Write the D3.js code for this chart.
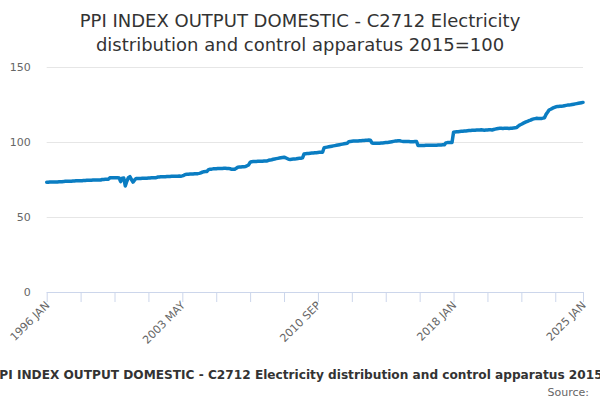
<!DOCTYPE html>
<html>
<head>
<meta charset="utf-8">
<script src="https://cdn.jsdelivr.net/npm/d3@7"></script>
<style>
  body { margin: 0; background: #fff; }
  text { font-family: "DejaVu Sans", sans-serif; }
</style>
</head>
<body>
<div id="chart"></div>
<script>
const ctx = {
    W: 600,
    H: 400,
    LEFT: 46.7,
    RIGHT: 583,
    TOP: 67,
    BOTTOM: 292,
};

const TITLE_LINES = ["PPI INDEX OUTPUT DOMESTIC - C2712 Electricity",
                     "distribution and control apparatus 2015=100"];
const SERIES_NAME = "PPI INDEX OUTPUT DOMESTIC - C2712 Electricity distribution and control apparatus 2015=100";
const MONTHS = ["JAN", "FEB", "MAR", "APR", "MAY", "JUN", "JUL", "AUG", "SEP", "OCT", "NOV", "DEC"];
const YEARS = d3.range(1996, 2026);
const Y_TICKS = [0, 50, 100, 150];
const X_LABELS = ["1996 JAN", "2003 MAY", "2010 SEP", "2018 JAN", "2025 JAN"];

// monthly index values, one row per year (2025 only Jan)
const v1996 = [73.2, 73.2, 73.3, 73.3, 73.3, 73.4, 73.4, 73.4, 73.5, 73.5, 73.5, 73.6];
const v1997 = [73.8, 73.8, 73.9, 73.9, 73.9, 74.0, 74.0, 74.1, 74.1, 74.2, 74.2, 74.2];
const v1998 = [74.4, 74.4, 74.5, 74.5, 74.5, 74.5, 74.6, 74.6, 74.6, 74.7, 74.7, 74.7];
const v1999 = [75.0, 75.0, 75.1, 75.1, 75.2, 76.1, 76.2, 76.2, 76.1, 76.2, 76.2, 76.0];
const v2000 = [73.6, 75.9, 76.0, 70.7, 73.8, 76.2, 76.9, 75.0, 73.3, 74.6, 75.6, 75.6];
const v2001 = [75.7, 75.7, 75.8, 75.8, 75.9, 75.9, 76.0, 76.0, 76.1, 76.1, 76.2, 76.2];
const v2002 = [76.6, 76.7, 76.8, 76.8, 76.9, 76.9, 77.0, 77.0, 77.0, 77.1, 77.1, 77.1];
const v2003 = [77.2, 77.2, 77.3, 77.2, 77.4, 77.8, 78.4, 78.5, 78.5, 78.6, 78.6, 78.7];
const v2004 = [78.8, 78.8, 78.9, 79.1, 79.4, 79.9, 80.2, 80.3, 80.4, 81.6, 81.8, 81.9];
const v2005 = [82.1, 82.2, 82.2, 82.3, 82.3, 82.4, 82.4, 82.5, 82.5, 82.4, 82.4, 82.2];
const v2006 = [81.8, 81.8, 81.9, 82.5, 83.2, 83.3, 83.4, 83.5, 83.5, 83.6, 84.2, 84.7];
const v2007 = [86.4, 86.9, 87.0, 87.0, 87.0, 87.1, 87.1, 87.2, 87.2, 87.3, 87.3, 87.4];
const v2008 = [87.8, 88.0, 88.2, 88.5, 88.7, 88.9, 89.1, 89.3, 89.5, 89.7, 89.8, 89.5];
const v2009 = [89.0, 88.5, 88.4, 88.5, 88.6, 88.7, 88.8, 89.0, 89.1, 89.2, 89.4, 92.0];
const v2010 = [92.2, 92.3, 92.4, 92.5, 92.6, 92.7, 92.8, 92.9, 93.0, 93.1, 93.1, 93.2];
const v2011 = [96.2, 96.4, 96.6, 96.8, 97.0, 97.2, 97.4, 97.6, 97.8, 98.0, 98.2, 98.4];
const v2012 = [98.6, 98.8, 99.0, 99.2, 100.2, 100.4, 100.5, 100.6, 100.6, 100.7, 100.7, 100.8];
const v2013 = [100.9, 101.0, 101.0, 101.1, 101.2, 101.3, 101.2, 99.5, 99.1, 99.1, 99.2, 99.2];
const v2014 = [99.2, 99.3, 99.4, 99.5, 99.6, 99.6, 99.8, 100.0, 100.2, 100.4, 100.6, 100.7];
const v2015 = [100.8, 100.9, 100.6, 100.4, 100.4, 100.3, 100.3, 100.3, 100.2, 100.2, 100.2, 100.3];
const v2016 = [100.3, 97.6, 97.6, 97.7, 97.7, 97.7, 97.8, 97.8, 97.8, 97.8, 97.9, 97.9];
const v2017 = [97.9, 97.9, 98.0, 98.0, 98.0, 98.1, 98.1, 99.4, 99.6, 99.6, 99.6, 99.7];
const v2018 = [106.5, 106.7, 106.8, 106.9, 107.0, 107.1, 107.2, 107.3, 107.4, 107.5, 107.6, 107.6];
const v2019 = [107.8, 107.9, 107.9, 108.0, 108.0, 108.0, 108.1, 108.0, 107.9, 108.0, 108.0, 108.1];
const v2020 = [108.1, 108.0, 108.3, 108.6, 108.8, 109.0, 109.1, 109.1, 109.0, 109.1, 109.2, 109.1];
const v2021 = [109.0, 109.1, 109.2, 109.4, 109.5, 109.6, 110.6, 111.3, 111.8, 112.4, 112.9, 113.4];
const v2022 = [113.8, 114.2, 114.6, 115.1, 115.4, 115.6, 115.8, 115.7, 115.6, 115.7, 115.9, 116.2];
const v2023 = [118.4, 119.8, 121.3, 121.8, 122.4, 122.9, 123.3, 123.6, 123.7, 123.8, 123.9, 124.0];
const v2024 = [124.2, 124.4, 124.6, 124.7, 124.8, 125.0, 125.2, 125.4, 125.6, 125.8, 126.0, 126.2];
const v2025 = [126.4];

const VALUES = [].concat(v1996, v1997, v1998, v1999, v2000, v2001, v2002, v2003, v2004, v2005,
                         v2006, v2007, v2008, v2009, v2010, v2011, v2012, v2013, v2014, v2015,
                         v2016, v2017, v2018, v2019, v2020, v2021, v2022, v2023, v2024, v2025);

function createViz() {
    const categories = [];
    YEARS.forEach(y => MONTHS.forEach(m => categories.push(y + " " + m)));
    categories.length = VALUES.length;

    const data = VALUES.map((v, i) => ({ cat: categories[i], i: i, v: v }));

    const svg = d3.select("#chart").append("svg")
        .attr("width", ctx.W)
        .attr("height", ctx.H);

    const x = d3.scaleLinear().domain([0, data.length - 1]).range([ctx.LEFT, ctx.RIGHT]);
    const y = d3.scaleLinear().domain([0, 150]).range([ctx.BOTTOM, ctx.TOP]);

    // title
    svg.append("g").selectAll("text")
        .data(TITLE_LINES)
        .enter()
        .append("text")
        .attr("x", ctx.W / 2)
        .attr("y", (d, k) => 27 + k * 24)
        .attr("text-anchor", "middle")
        .style("font-size", "18px")
        .style("fill", "#333333")
        .text(d => d);

    // grid + y labels
    const yAxis = d3.axisLeft(y).tickValues(Y_TICKS)
        .tickSize(-(ctx.RIGHT - ctx.LEFT)).tickPadding(16);
    const gy = svg.append("g").attr("transform", `translate(${ctx.LEFT},0)`).call(yAxis);
    gy.select(".domain").remove();
    gy.selectAll(".tick line").attr("stroke", "#e6e6e6").attr("stroke-width", 1)
        .filter(d => d === 0).remove();
    gy.selectAll(".tick text")
        .style("font-family", "DejaVu Sans, sans-serif")
        .style("font-size", "11px")
        .style("fill", "#666666");

    // x axis, tick every 22 months plus the last month
    const tickIdx = d3.range(0, data.length - 1, 22).concat([data.length - 1]);
    const xAxis = d3.axisBottom(x).tickValues(tickIdx).tickSize(10)
        .tickFormat(i => X_LABELS.includes(categories[i]) ? categories[i] : "");
    const gx = svg.append("g").attr("transform", `translate(0,${ctx.BOTTOM})`).call(xAxis);
    gx.select(".domain").attr("stroke", "#ccd6eb").attr("d", `M${ctx.LEFT},0.5H${ctx.RIGHT}`);
    gx.selectAll(".tick line").attr("stroke", "#ccd6eb");
    gx.selectAll(".tick text")
        .style("font-family", "DejaVu Sans, sans-serif")
        .style("font-size", "11px")
        .style("fill", "#666666")
        .attr("text-anchor", "end")
        .attr("dy", null)
        .attr("y", 0)
        .attr("transform", "translate(3,14) rotate(-45)");

    // series line
    const line = d3.line().x(d => x(d.i)).y(d => y(d.v));
    svg.append("path")
        .datum(data)
        .attr("d", line)
        .attr("fill", "none")
        .attr("stroke", "#0a7dc2")
        .attr("stroke-width", 3.5)
        .attr("stroke-linejoin", "round")
        .attr("stroke-linecap", "round");

    // legend (wider than the chart, clipped by the edges)
    const lg = svg.append("g");
    const lt = lg.append("text")
        .attr("y", 379)
        .style("font-size", "12px")
        .style("font-weight", "bold")
        .style("fill", "#333333")
        .text(SERIES_NAME);
    const tw = lt.node().getComputedTextLength();
    const x0 = ctx.W / 2 - (tw + 21) / 2;
    lg.append("line")
        .attr("x1", x0).attr("x2", x0 + 16)
        .attr("y1", 375).attr("y2", 375)
        .attr("stroke", "#0a7dc2").attr("stroke-width", 2);
    lt.attr("x", x0 + 21).style("font-size", "12.15px");

    // credits
    svg.append("text")
        .attr("x", 589)
        .attr("y", 396)
        .attr("text-anchor", "end")
        .style("font-size", "11px")
        .style("fill", "#666666")
        .text("Source:");
};

createViz();
</script>
</body>
</html>
